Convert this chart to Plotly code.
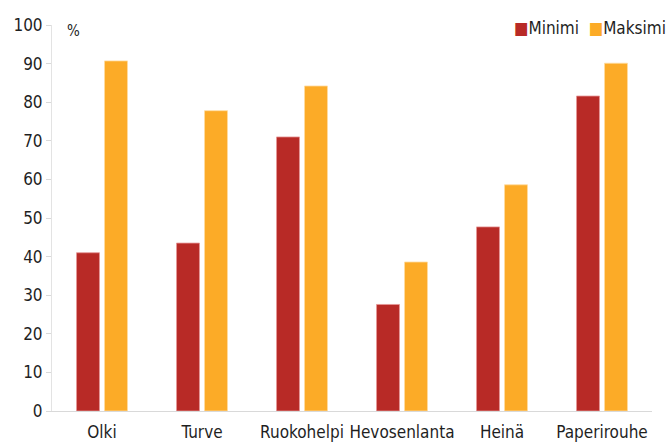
import plotly.graph_objects as go

# Fuel categories and min/max values (%)
categories = ["Olki", "Turve", "Ruokohelpi", "Hevosenlanta", "Heinä", "Paperirouhe"]
minimi = [41.0, 43.5, 71.0, 27.6, 47.7, 81.6]
maksimi = [90.7, 77.8, 84.2, 38.6, 58.6, 90.1]
y_ticks = [0, 10, 20, 30, 40, 50, 60, 70, 80, 90, 100]
series_names = ["Minimi", "Maksimi"]

FONT = "DejaVu Sans Condensed, Liberation Sans Narrow, sans-serif"
RED = "#B82A26"
ORANGE = "#FCAB27"
TEXT = "#1F1F1F"
colors = [RED, ORANGE]

fig = go.Figure()
for name, vals, col, edge in zip(series_names, [minimi, maksimi], colors,
                                 ["rgba(230,150,150,0.8)", "rgba(255,220,160,0.8)"]):
    fig.add_trace(go.Bar(
        x=categories, y=vals, name=name,
        marker=dict(color=col, line=dict(color=edge, width=1)),
    ))

# Compact legend: coloured squares right next to the series names
legend_text = "".join(
    f"<span style='color:{c}'>■</span>{n}" + ("\u00a0\u00a0" if i == 0 else "")
    for i, (n, c) in enumerate(zip(series_names, colors))
)

fig.update_layout(
    width=666, height=442,
    margin=dict(l=52, r=14, t=25, b=31, autoexpand=False),
    paper_bgcolor="white", plot_bgcolor="white",
    barmode="group", bargap=0.44, bargroupgap=0.18,
    font=dict(family=FONT, size=16, color=TEXT),
    showlegend=False,
    xaxis=dict(
        showline=True, linecolor="#D9D9D9", linewidth=1,
        ticks="", showgrid=False, ticklabelstandoff=6,
        tickfont=dict(family=FONT, size=17, color=TEXT),
    ),
    yaxis=dict(
        range=[0, 100], tickvals=y_ticks,
        showline=True, linecolor="#E3E3E3", linewidth=1,
        ticks="outside", ticklen=5, tickcolor="#D9D9D9",
        showgrid=False, zeroline=False,
        tickfont=dict(family=FONT, size=17, color=TEXT),
    ),
    annotations=[
        dict(
            text="%", xref="paper", yref="paper", x=0.022, y=0.985,
            xanchor="left", yanchor="middle", showarrow=False,
            font=dict(family=FONT, size=15, color=TEXT),
        ),
        dict(
            text=legend_text, xref="paper", yref="paper", x=1.027, y=0.992,
            xanchor="right", yanchor="middle", showarrow=False,
            font=dict(family=FONT, size=17, color=TEXT),
        ),
    ],
)

fig.write_html("out.html")
